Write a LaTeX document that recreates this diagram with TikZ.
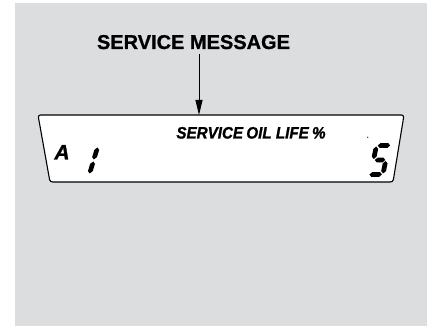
\documentclass[tikz,border=0pt]{standalone}
\usepackage{fontspec}
\setmainfont{Liberation Sans}
\newfontface\heavyup{Liberation Sans Bold}[FakeBold=0.8]
\newfontface\heavyit{Liberation Sans Bold Italic}[FakeBold=1.2]
\usetikzlibrary{arrows.meta}
\definecolor{panelgray}{RGB}{220,221,223}
\newcommand\hsegm[3]{\fill (#1,#3) -- (#1+2.4,#3-2.4) -- (#2-2.4,#3-2.4) -- (#2,#3) -- (#2-2.4,#3+2.4) -- (#1+2.4,#3+2.4) -- cycle;}
\newcommand\vsegm[3]{\fill (#1,#2) -- (#1+2.4,#2+2.4) -- (#1+2.4,#3-2.4) -- (#1,#3) -- (#1-2.4,#3-2.4) -- (#1-2.4,#2+2.4) -- cycle;}
\begin{document}
\begin{tikzpicture}[x=1pt,y=-1pt,
  lbl/.style={anchor=base,inner sep=0pt,text=black},
  pointer/.style={line width=1pt,-{Triangle[length=15pt,width=7pt]}}]
\useasboundingbox (0,0) rectangle (429,326);
\fill[panelgray] (15,3) rectangle (427,326);
% display window
\draw[line width=1.1pt, fill=white, rounded corners=2.5pt]
  (38,115) -- (404,115) -- (393,182) -- (50,182) -- cycle;
% labels
\node[lbl,font=\heavyup\fontsize{20}{24}\selectfont] (msg) at (193.5,49) {SERVICE MESSAGE};
\node[lbl,font=\heavyit\fontsize{16.5}{19}\selectfont] (oil) at (251,138.5) {\scalebox{0.92}[1]{SERVICE\kern-1pt{} OIL LIFE\kern-1pt{} \%}};
\node[lbl,font=\heavyit\fontsize{21}{24}\selectfont] (amode) at (62,159.5) {A};
% arrow
\coordinate (arrowstart) at (199,54);
\coordinate (disptop) at (199,115);
\draw[pointer] (arrowstart) -- (disptop);
% digit 1
\begin{scope}[shift={(86,174)},xslant=0.3]
  \vsegm{3.5}{-26.5}{-14.5}
  \vsegm{3.5}{-12.5}{-0.5}
\end{scope}
% digit 5
\begin{scope}[shift={(368,176.5)},xslant=0.2]
  \hsegm{3.5}{16}{-31}
  \vsegm{2.2}{-30}{-17.5}
  \hsegm{3.5}{14}{-16.5}
  \vsegm{14.5}{-15.5}{-3}
  \hsegm{1}{13.5}{-2}
\end{scope}
\fill (367.7,137.3) circle (0.6);
\end{tikzpicture}
\end{document}
